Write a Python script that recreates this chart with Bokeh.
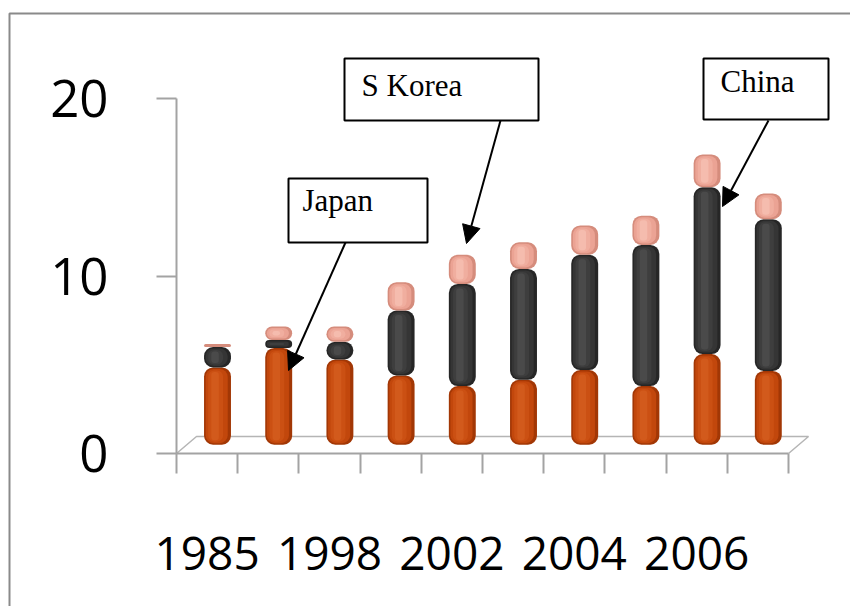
from bokeh.plotting import figure
from bokeh.models import Range1d, FixedTicker, Arrow, NormalHead, ColumnDataSource
from bokeh.core.properties import value
from bokeh.embed import file_html
from bokeh.resources import INLINE

# ---- data -------------------------------------------------------------
year_labels = ["1985", "", "1998", "", "2002", "", "2004", "", "2006", ""]
japan = [4.35, 5.45, 4.8, 3.9, 3.3, 3.65, 4.2, 3.3, 5.1, 4.15]
china = [1.15, 0.45, 1.0, 3.65, 5.75, 6.25, 6.5, 7.95, 9.4, 8.55]
korea = [0.17, 0.75, 0.85, 1.6, 1.65, 1.5, 1.65, 1.65, 1.85, 1.45]
y_ticks = [0, 10, 20]

# ---- geometry of the canvas (pixel scale of one category / one unit) --
W, H = 850, 606
X0_PX, Y0_PX = 176, 453          # where category 0 / value 0 sit
CAT_PX, UNIT_PX = 61.2, 17.75


def px_x(px):
    return (px - X0_PX) / CAT_PX


def px_y(py):
    return (Y0_PX - py) / UNIT_PX


p = figure(width=W, height=H, output_backend="svg", toolbar_location=None,
           x_range=Range1d(px_x(0), px_x(W)), y_range=Range1d(px_y(H), px_y(0)),
           min_border=0, min_border_left=0, min_border_right=0,
           min_border_top=0, min_border_bottom=0)
p.outline_line_color = None
p.background_fill_color = "white"
p.border_fill_color = "white"
p.grid.visible = False

axis_grey = "#a3a3a3"

# value axis
ya = p.yaxis[0]
ya.fixed_location = 0
ya.bounds = (0, 20)
ya.ticker = FixedTicker(ticks=y_ticks)
ya.axis_line_color = axis_grey
ya.axis_line_width = 2
ya.major_tick_line_color = axis_grey
ya.major_tick_line_width = 2
ya.major_tick_out = 20
ya.major_tick_in = 0
ya.minor_tick_line_color = None
ya.major_label_standoff = 48
ya.major_label_text_font = "Open Sans"
ya.major_label_text_font_size = "51px"
ya.major_label_text_color = "black"

# category axis: labels at bar centres, ticks at category boundaries
n = len(year_labels)
centers = [i + 0.5 for i in range(n)]
xa = p.xaxis[0]
xa.fixed_location = 0
xa.bounds = (0, n)
xa.ticker = FixedTicker(ticks=centers, minor_ticks=list(range(n + 1)))
xa.major_label_overrides = {c: lab for c, lab in zip(centers, year_labels)}
xa.axis_line_color = axis_grey
xa.axis_line_width = 2
xa.major_tick_line_color = None
xa.major_tick_out = 0
xa.major_tick_in = 0
xa.minor_tick_line_color = axis_grey
xa.minor_tick_line_width = 2
xa.minor_tick_out = 20
xa.minor_tick_in = 0
xa.major_label_standoff = 63
xa.major_label_text_font = "Open Sans"
xa.major_label_text_font_size = "46px"
xa.major_label_text_color = "black"

# floor of the 3-D plot area
dx, dy = px_x(X0_PX + 20), px_y(Y0_PX - 17)
p.line([0, dx, n + dx, n], [0, dy, dy, 0], line_color="#b5b5b5", line_width=1.5)

# ---- cylinders ----------------------------------------------------------
bar_w = 0.44
bar_dx = 0.17
base = 0.5
palettes = [
    ("#A23705", "#C2470C", "#CB5013", "#D25A1C"),   # Japan
    ("#262626", "#353535", "#3E3E3E", "#4A4A4A"),   # China
    ("#D58C7C", "#EBA394", "#F0AE9F", "#F5BCAE"),   # S Korea
]
layers = [(1.0, 0.0, 0, 0, 9), (0.82, -0.03, 1.5, 1, 8), (0.55, -0.07, 3, 2, 6),
          (0.28, -0.09, 4.5, 3, 3)]

xs = [c + bar_dx for c in centers]
bottoms = [base] * n
for series, pal in zip([japan, china, korea], palettes):
    tops = [b + v for b, v in zip(bottoms, series)]
    for wfrac, shift, inset_px, ci, rad in layers:
        inset = inset_px / UNIT_PX
        lo, hi = [], []
        for b, t in zip(bottoms, tops):
            bb, tt = b + inset, t - inset
            if tt <= bb:
                bb = tt = (b + t) / 2
            lo.append(bb)
            hi.append(tt)
        src = ColumnDataSource(dict(x=[x + shift * bar_w for x in xs], bottom=lo, top=hi))
        p.vbar(x="x", bottom="bottom", top="top", width=bar_w * wfrac, source=src,
               fill_color=pal[ci], line_color=None, border_radius=rad)
    bottoms = tops

# ---- call-out boxes -------------------------------------------------------
boxes = [
    ("Japan", (288, 427, 178, 242), (302, 182), (345, 242), (288, 370)),
    ("S Korea", (344, 538, 58, 120), (361, 67), (500, 120), (466, 243)),
    ("China", (703, 828, 58, 119), (720, 63), (768, 120), (722, 206)),
]
for name, (l, r, t, b), (tx, ty), (sx, sy), (ex, ey) in boxes:
    p.quad(left=px_x(l), right=px_x(r), top=px_y(t), bottom=px_y(b),
           fill_color="white", line_color="black", line_width=2)
    p.text(x=[px_x(tx)], y=[px_y(ty)], text=[name], text_font=value("Liberation Serif"),
           text_font_size="31px", text_baseline="top", text_color="black")
    p.add_layout(Arrow(end=NormalHead(size=18, fill_color="black", line_color="black"),
                       x_start=px_x(sx), y_start=px_y(sy), x_end=px_x(ex), y_end=px_y(ey),
                       line_color="black", line_width=2))

# outer chart border
p.line([px_x(9), px_x(9), px_x(W + 5)], [px_y(H + 5), px_y(13), px_y(13)],
       line_color="#8a8a8a", line_width=2)

open("out.html", "w").write(file_html(p, INLINE))
